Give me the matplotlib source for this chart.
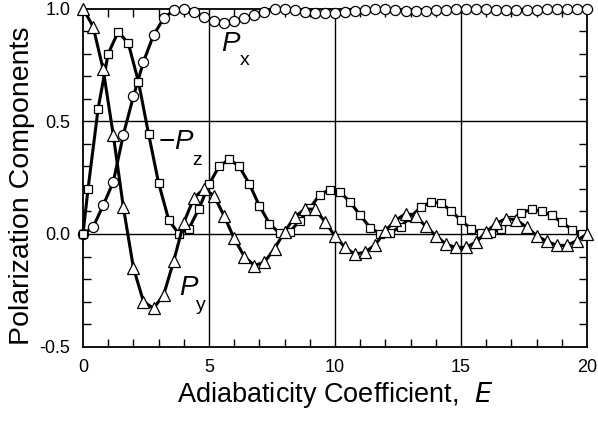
import matplotlib.pyplot as plt
import numpy as np
from matplotlib.ticker import MultipleLocator

plt.rcParams['font.family'] = ['Liberation Sans', 'DejaVu Sans']

# E grid for Px and Py (every 0.4)
e_xy = np.arange(0, 20.01, 0.4)
# E grid for -Pz (0, then 0.2 + 0.4k)
e_z = np.concatenate(([0.0], np.arange(0.2, 19.81, 0.4)))

px = [0.0, 0.03, 0.127, 0.23, 0.44, 0.61, 0.764, 0.882, 0.956, 0.993,
      0.998, 0.983, 0.964, 0.944, 0.937, 0.944, 0.956, 0.971, 0.986, 0.998,
      1.0, 0.993, 0.986, 0.979, 0.979, 0.979, 0.983, 0.989, 0.993, 0.996,
      0.996, 0.994, 0.99, 0.99, 0.99, 0.992, 0.994, 0.997, 1.0, 1.0,
      0.998, 0.995, 0.993, 0.993, 0.993, 0.995, 0.997, 1.0, 1.0, 1.0, 1.0]

py = [1.0, 0.92, 0.73, 0.44, 0.12, -0.15, -0.30, -0.33, -0.27, -0.12,
      0.05, 0.16, 0.20, 0.17, 0.08, -0.02, -0.10, -0.14, -0.125, -0.065,
      0.01, 0.075, 0.11, 0.11, 0.055, -0.01, -0.06, -0.09, -0.08, -0.048,
      0.015, 0.06, 0.09, 0.078, 0.035, -0.008, -0.045, -0.06, -0.059, -0.036,
      0.008, 0.048, 0.068, 0.063, 0.03, -0.007, -0.033, -0.05, -0.051, -0.029, 0.0]

mpz = [0.0, 0.20, 0.556, 0.80, 0.897, 0.845, 0.675, 0.445, 0.226, 0.063,
       0.0, 0.023, 0.112, 0.22, 0.30, 0.331, 0.30, 0.222, 0.125, 0.046,
       0.003, 0.01, 0.058, 0.115, 0.174, 0.197, 0.186, 0.142, 0.083, 0.027,
       0.001, 0.005, 0.033, 0.075, 0.119, 0.141, 0.137, 0.104, 0.06, 0.023,
       0.004, 0.005, 0.023, 0.06, 0.094, 0.109, 0.101, 0.082, 0.052, 0.019, 0.001]

fig = plt.figure(figsize=(5.98, 4.21), dpi=100)
ax = fig.add_axes([0.1388, 0.1765, 0.8428, 0.8033])

ax.axvline(5, color='black', lw=1, zorder=1)
ax.axvline(10, color='black', lw=1, zorder=1)
ax.axvline(15, color='black', lw=1, zorder=1)
ax.axhline(0, color='black', lw=1, zorder=1)
ax.axhline(0.5, color='black', lw=1, zorder=1)

style = dict(color='black', lw=2.2, mfc='white', mec='black', mew=0.9, clip_on=False, zorder=3)
ax.plot(e_xy, px, marker='o', ms=7.3, **style)
ax.plot(e_z, mpz, marker='s', ms=6.3, **style)
ax.plot(e_xy, py, marker='^', ms=8, **style)

ax.set_xlim(0, 20)
ax.set_ylim(-0.5, 1.0)
ax.xaxis.set_major_locator(MultipleLocator(5))
ax.xaxis.set_minor_locator(MultipleLocator(1))
ax.yaxis.set_minor_locator(MultipleLocator(0.1))
ax.set_yticks([-0.5, 0, 0.5, 1.0])
ax.set_yticklabels(['-0.5', '0.0', '0.5', '1.0'])
ax.tick_params(which='both', direction='in', top=True, right=True, labelsize=13, width=1)
ax.tick_params(which='major', length=0, pad=9)
ax.tick_params(which='minor', length=6)
for s in ax.spines.values():
    s.set_linewidth(1.3)

ax.set_xlabel('Adiabaticity Coefficient,  $\\mathit{E}$', fontsize=19.5, labelpad=3)
ax.set_ylabel('Polarization Components', fontsize=20.5)
ax.yaxis.set_label_coords(-0.095, 0.477)

ax.text(5.83, 0.842, 'P', style='italic', fontsize=20, ha='center', va='center')
ax.text(6.43, 0.77, 'x', fontsize=14, ha='center', va='center')
ax.text(3.33, 0.41, '\u2212', fontsize=20, ha='center', va='center')
ax.text(3.99, 0.41, 'P', style='italic', fontsize=20, ha='center', va='center')
ax.text(4.52, 0.327, 'z', fontsize=14, ha='center', va='center')
ax.text(4.2, -0.238, 'P', style='italic', fontsize=20, ha='center', va='center')
ax.text(4.68, -0.318, 'y', fontsize=14, ha='center', va='center')

fig.savefig('out.png', dpi=100)
